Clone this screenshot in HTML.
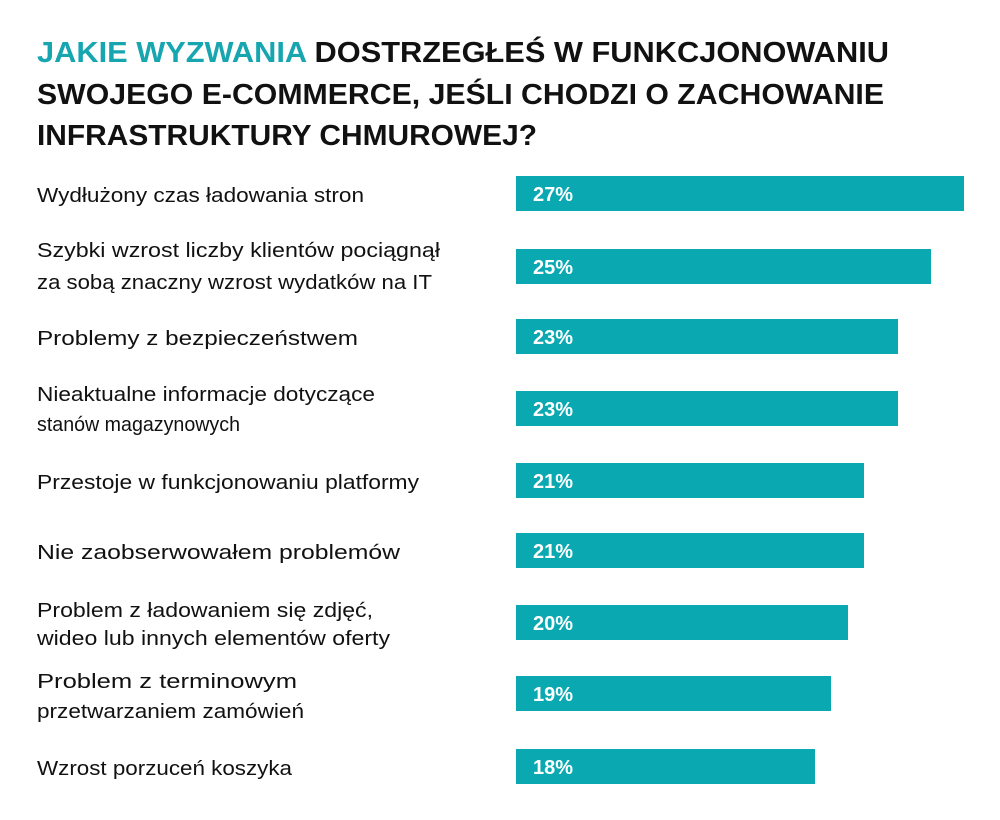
<!DOCTYPE html>
<html><head><meta charset="utf-8"><style>
html,body{margin:0;padding:0;background:#fff;}
svg{display:block}
.t{font-family:"Liberation Sans",sans-serif;font-weight:bold;font-size:29px;fill:#111}
.l{font-family:"Liberation Sans",sans-serif;font-size:20px;fill:#111}
.p{font-family:"Liberation Sans",sans-serif;font-weight:bold;font-size:20px;fill:#fff}
</style></head><body>
<svg width="1000" height="820" viewBox="0 0 1000 820" xmlns="http://www.w3.org/2000/svg">
<text class="t" x="37" y="62" textLength="852" lengthAdjust="spacingAndGlyphs"><tspan fill="#17a6b0">JAKIE WYZWANIA</tspan> DOSTRZEGŁEŚ W FUNKCJONOWANIU</text>
<text class="t" x="37" y="104" textLength="847" lengthAdjust="spacingAndGlyphs">SWOJEGO E-COMMERCE, JEŚLI CHODZI O ZACHOWANIE</text>
<text class="t" x="37" y="145" textLength="500" lengthAdjust="spacingAndGlyphs">INFRASTRUKTURY CHMUROWEJ?</text>

<g fill="#0aa9b1">
<rect x="516" y="176" width="448" height="35"/>
<rect x="516" y="249" width="415" height="35"/>
<rect x="516" y="319" width="382" height="35"/>
<rect x="516" y="391" width="382" height="35"/>
<rect x="516" y="463" width="348" height="35"/>
<rect x="516" y="533" width="348" height="35"/>
<rect x="516" y="605" width="332" height="35"/>
<rect x="516" y="676" width="315" height="35"/>
<rect x="516" y="749" width="299" height="35"/>
</g>
<g class="p">
<text class="p" x="533" y="201">27%</text>
<text class="p" x="533" y="274">25%</text>
<text class="p" x="533" y="344">23%</text>
<text class="p" x="533" y="416">23%</text>
<text class="p" x="533" y="488">21%</text>
<text class="p" x="533" y="558">21%</text>
<text class="p" x="533" y="630">20%</text>
<text class="p" x="533" y="701">19%</text>
<text class="p" x="533" y="774">18%</text>
</g>
<text class="l" x="37" y="202" textLength="327" lengthAdjust="spacingAndGlyphs">Wydłużony czas ładowania stron</text>
<text class="l" x="37" y="257" textLength="403" lengthAdjust="spacingAndGlyphs">Szybki wzrost liczby klientów pociągnął</text>
<text class="l" x="37" y="289" textLength="395" lengthAdjust="spacingAndGlyphs">za sobą znaczny wzrost wydatków na IT</text>
<text class="l" x="37" y="345" textLength="321" lengthAdjust="spacingAndGlyphs">Problemy z bezpieczeństwem</text>
<text class="l" x="37" y="401" textLength="338" lengthAdjust="spacingAndGlyphs">Nieaktualne informacje dotyczące</text>
<text class="l" x="37" y="431" textLength="203" lengthAdjust="spacingAndGlyphs">stanów magazynowych</text>
<text class="l" x="37" y="489" textLength="382" lengthAdjust="spacingAndGlyphs">Przestoje w funkcjonowaniu platformy</text>
<text class="l" x="37" y="559" textLength="363" lengthAdjust="spacingAndGlyphs">Nie zaobserwowałem problemów</text>
<text class="l" x="37" y="617" textLength="336" lengthAdjust="spacingAndGlyphs">Problem z ładowaniem się zdjęć,</text>
<text class="l" x="37" y="645" textLength="353" lengthAdjust="spacingAndGlyphs">wideo lub innych elementów oferty</text>
<text class="l" x="37" y="688" textLength="260" lengthAdjust="spacingAndGlyphs">Problem z terminowym</text>
<text class="l" x="37" y="718" textLength="267" lengthAdjust="spacingAndGlyphs">przetwarzaniem zamówień</text>
<text class="l" x="37" y="775" textLength="255" lengthAdjust="spacingAndGlyphs">Wzrost porzuceń koszyka</text>
</svg>
</body></html>
